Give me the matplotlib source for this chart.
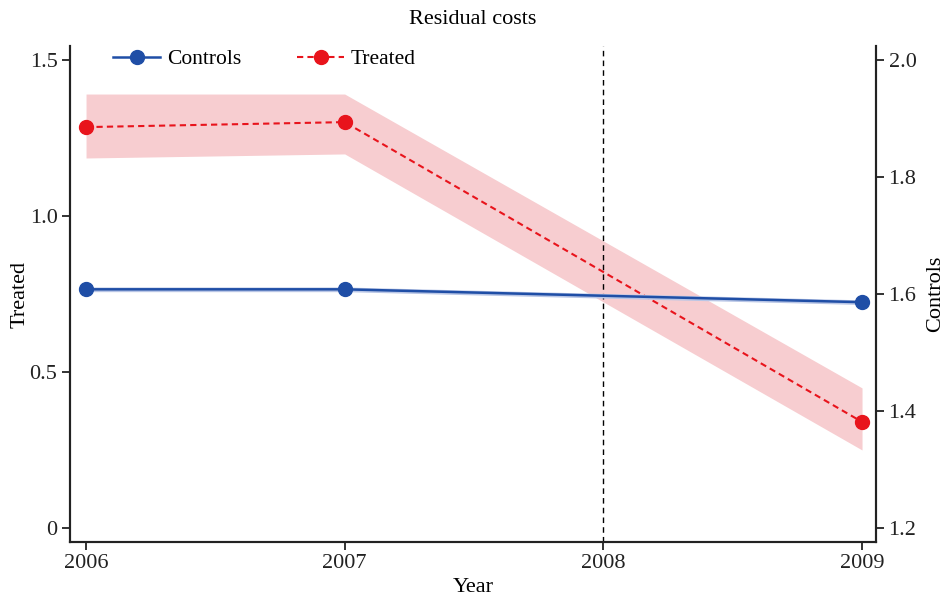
import numpy as np
import matplotlib.pyplot as plt

years = [2006, 2007, 2009]
controls = [1.608, 1.608, 1.586]
controls_lo = [1.604, 1.604, 1.582]
controls_hi = [1.612, 1.612, 1.590]
treated = [1.285, 1.301, 0.340]
treated_lo = [1.186, 1.199, 0.250]
treated_hi = [1.391, 1.391, 0.449]
xticks = [2006, 2007, 2008, 2009]
left_ticks = [0, 0.5, 1.0, 1.5]
left_labels = ["0", "0.5", "1.0", "1.5"]
right_ticks = [1.2, 1.4, 1.6, 1.8, 2.0]

plt.rcParams['font.family'] = ['Liberation Serif', 'DejaVu Serif']

W, H = 944, 596
fig = plt.figure(figsize=(W / 100, H / 100), dpi=100)
ax = fig.add_axes([70 / W, 54 / H, (876 - 70) / W, (542 - 46) / H])
ax2 = ax.twinx()

red = '#e8141c'
blue = '#1f4ea6'

ax.fill_between(years, treated_lo, treated_hi, color='#f7cdd0', lw=0, zorder=1)
l_t, = ax.plot(years, treated, color=red, ls=(0, (3, 2)), lw=1.5, marker='o',
               ms=10, zorder=3, label='Treated')
ax.axvline(2008, color='black', ls=(0, (4, 3)), lw=1.0, zorder=2)

ax2.fill_between(years, controls_lo, controls_hi, color='#b9c6e6', lw=0, zorder=1)
l_c, = ax2.plot(years, controls, color=blue, lw=1.8, marker='o', ms=10,
                zorder=3, label='Controls')

ax.set_xlim(2005.938, 2009.054)
ax.set_ylim(-0.045, 1.545)
ax2.set_ylim(1.176, 2.024)

ax.set_xticks(xticks)
ax.set_xticklabels([str(x) for x in xticks])
ax.set_yticks(left_ticks)
ax.set_yticklabels(left_labels)
ax2.set_yticks(right_ticks)
ax2.set_yticklabels(["%.1f" % v for v in right_ticks])

for a in (ax, ax2):
    a.spines['top'].set_visible(False)
    for s in ('left', 'right', 'bottom'):
        a.spines[s].set_linewidth(1.5)
        a.spines[s].set_color('#222222')
    a.tick_params(direction='out', length=6, width=1.3, colors='#222222',
                  labelsize=16, pad=3)
ax.patch.set_visible(False)

ax.set_ylabel('Treated', fontsize=16, labelpad=0)
ax2.set_ylabel('Controls', fontsize=16, labelpad=7)
ax.set_xlabel('Year', fontsize=16, labelpad=3)
ax.set_title('Residual costs', fontsize=16, pad=16)

ax2.legend(handles=[l_c, l_t], loc='upper left', bbox_to_anchor=(0.04, 1.015),
           ncol=2, frameon=False, fontsize=15.5, handlelength=2.2,
           columnspacing=2.6, handletextpad=0.3, borderaxespad=0.1)

fig.savefig('out.png', dpi=100, facecolor='white')
